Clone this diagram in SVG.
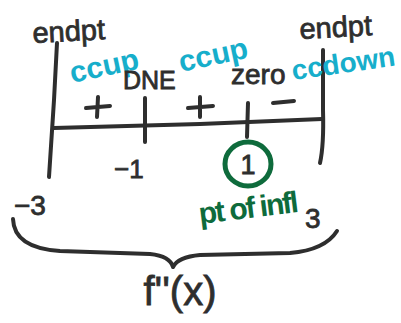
<svg xmlns="http://www.w3.org/2000/svg" width="401" height="323" viewBox="0 0 401 323">
<style>
.ink{fill:none;stroke:#2e2e2e;stroke-width:4;stroke-linecap:round;stroke-linejoin:round}
.t{font-family:"Liberation Sans",Arial,sans-serif;fill:#2e2e2e;stroke:#2e2e2e;stroke-width:0.8}
.c{font-family:"Liberation Sans",Arial,sans-serif;fill:#17aecb;font-weight:bold}
.g{font-family:"Liberation Sans",Arial,sans-serif;fill:#0e6b3c;font-weight:bold}
</style>
<rect width="401" height="323" fill="#ffffff"/>
<g id="lines">
<path class="ink" d="M57,43 L54,100 L49,177"/>
<path class="ink" d="M54,128 L200,124 L322,119"/>
<path class="ink" d="M145,98 L145,142"/>
<path class="ink" d="M248,103 L247,137"/>
<path class="ink" d="M323,50 L323,110 Q324,145 320,163"/>
<path class="ink" d="M86,108 L110,106 M98,97 L97,117"/>
<path class="ink" d="M188,108 L213,106 M200,97 L200,117"/>
<path class="ink" d="M273,103 L294,101"/>
<path class="ink" d="M13,219 Q14,248 60,251 L150,254 Q170,256 173,267 Q178,257 200,255 L290,253 Q325,250 337,231"/>
</g>
<g id="top-labels">
<text class="t" x="33" y="43" font-size="29" transform="rotate(-3 33 43)">endpt</text>
<text class="t" x="300" y="39" font-size="29" transform="rotate(-3 300 39)">endpt</text>
<text class="c" x="72" y="83" font-size="30" transform="rotate(-12 72 83)">ccup</text>
<text class="c" x="181" y="72" font-size="30" transform="rotate(-12 181 72)">ccup</text>
<text class="c" x="293" y="80" font-size="28" transform="rotate(-8 293 80)">ccdown</text>
<text class="t" x="123" y="89" font-size="25">DNE</text>
<text class="t" x="231" y="84" font-size="28">zero</text>
</g>
<g id="bottom-labels">
<text class="t" x="114" y="178" font-size="26">−1</text>
<ellipse cx="248" cy="164" rx="23" ry="22" fill="none" stroke="#0e6b3c" stroke-width="5"/>
<text class="t" x="248" y="174" font-size="27" text-anchor="middle">1</text>
<text class="g" x="200" y="224" font-size="30" letter-spacing="-2" transform="rotate(-7 200 224)">pt of infl</text>
<text class="t" x="14" y="215" font-size="28">−3</text>
<text class="t" x="305" y="228" font-size="28">3</text>
<text class="t" x="180" y="305" font-size="40" text-anchor="middle">f''(x)</text>
</g>
</svg>
